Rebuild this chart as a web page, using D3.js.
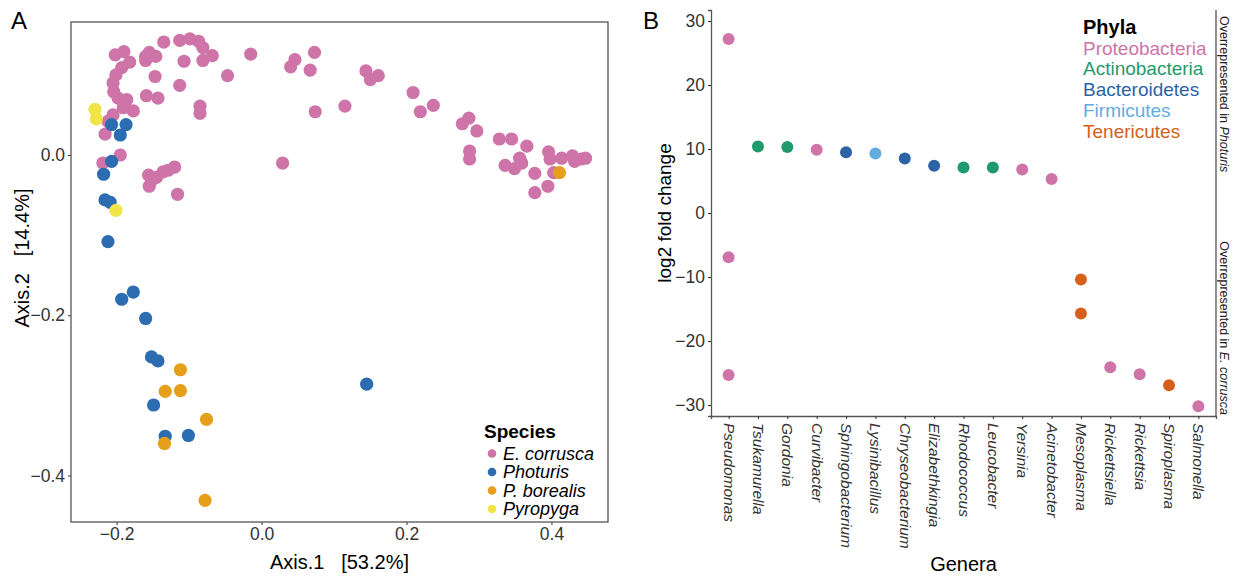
<!DOCTYPE html>
<html>
<head>
<meta charset="utf-8">
<script src="https://cdn.jsdelivr.net/npm/d3@7"></script>
<style>
  body { margin: 0; background: #fff; }
  svg { display: block; font-family: "Liberation Sans", Arial, sans-serif; }
</style>
</head>
<body>
<div id="chart"></div>
<script>
// --- Panel A: PCoA ordination (Axis.1, Axis.2) ---
const speciesNames = ['E. corrusca', 'Photuris', 'P. borealis', 'Pyropyga'];
const speciesColors = ['#CE74A9', '#2C6DB1', '#E69F1A', '#F1E446'];

const corruscaPoints = [
  [-0.202, 0.125], [-0.190, 0.129], [-0.182, 0.116], [-0.193, 0.109], [-0.201, 0.100],
  [-0.205, 0.090], [-0.204, 0.079], [-0.198, 0.071], [-0.186, 0.069], [-0.177, 0.055],
  [-0.191, 0.059], [-0.205, 0.050], [-0.212, 0.042], [-0.160, 0.123], [-0.155, 0.128],
  [-0.146, 0.123], [-0.160, 0.118], [-0.135, 0.141], [-0.113, 0.143], [-0.099, 0.145],
  [-0.087, 0.142], [-0.081, 0.134], [-0.068, 0.124], [-0.081, 0.118], [-0.107, 0.117],
  [-0.147, 0.098], [-0.113, 0.087], [-0.159, 0.074], [-0.143, 0.071], [-0.085, 0.061],
  [-0.085, 0.052], [-0.047, 0.099], [-0.015, 0.126], [0.046, 0.119], [0.040, 0.110],
  [0.067, 0.106], [0.073, 0.128], [0.074, 0.054], [0.115, 0.061], [0.029, -0.010],
  [0.144, 0.105], [0.150, 0.094], [0.161, 0.099], [0.209, 0.078], [0.219, 0.054],
  [0.237, 0.062], [0.277, 0.039], [0.286, 0.046], [0.297, 0.030], [0.328, 0.020],
  [0.345, 0.020], [0.366, 0.011], [0.287, 0.005], [0.287, -0.005], [0.336, -0.013],
  [0.349, -0.017], [0.356, -0.004], [0.359, -0.010], [0.377, -0.023], [0.396, 0.004],
  [0.398, -0.005], [0.414, -0.004], [0.429, -0.001], [0.432, -0.008], [0.441, -0.005],
  [0.447, -0.004], [0.403, -0.022], [0.395, -0.039], [0.377, -0.047], [-0.216, 0.026],
  [-0.195, 0.000], [-0.219, -0.010], [-0.156, -0.025], [-0.145, -0.028], [-0.136, -0.021],
  [-0.120, -0.015], [-0.155, -0.039], [-0.116, -0.049], [-0.151, -0.031], [-0.129, -0.019]
];
const photurisPoints = [
  [-0.207, 0.038], [-0.187, 0.038], [-0.195, 0.025], [-0.207, -0.008], [-0.218, -0.024],
  [-0.216, -0.056], [-0.209, -0.059], [-0.212, -0.108], [-0.193, -0.180], [-0.177, -0.171],
  [-0.160, -0.204], [-0.152, -0.252], [-0.143, -0.257], [-0.149, -0.312], [-0.133, -0.351],
  [-0.101, -0.350], [0.145, -0.286]
];
const borealisPoints = [
  [-0.112, -0.268], [-0.133, -0.295], [-0.112, -0.294], [-0.076, -0.330], [-0.134, -0.360],
  [-0.078, -0.431], [0.411, -0.022]
];
const pyropygaPoints = [
  [-0.230, 0.057], [-0.228, 0.045], [-0.201, -0.069]
];
const axis1Ticks = [-0.2, 0.0, 0.2, 0.4];
const axis2Ticks = [0.0, -0.2, -0.4];

// --- Panel B: differential abundance ---
const genera = ['Pseudomonas', 'Tsukamurella', 'Gordonia', 'Curvibacter', 'Sphingobacterium',
  'Lysinibacillus', 'Chryseobacterium', 'Elizabethkingia', 'Rhodococcus', 'Leucobacter',
  'Yersinia', 'Acinetobacter', 'Mesoplasma', 'Rickettsiella', 'Rickettsia', 'Spiroplasma', 'Salmonella'];
const phylaNames = ['Proteobacteria', 'Actinobacteria', 'Bacteroidetes', 'Firmicutes', 'Tenericutes'];
const phylaColors = ['#CE74A9', '#1F9A6C', '#2C62A6', '#64ACDE', '#D5601C'];

const deGenus = ['Pseudomonas', 'Pseudomonas', 'Pseudomonas', 'Tsukamurella', 'Gordonia', 'Curvibacter',
  'Sphingobacterium', 'Lysinibacillus', 'Chryseobacterium', 'Elizabethkingia', 'Rhodococcus', 'Leucobacter',
  'Yersinia', 'Acinetobacter', 'Mesoplasma', 'Mesoplasma', 'Rickettsiella', 'Rickettsia', 'Spiroplasma', 'Salmonella'];
const deLog2FC = [27.2, -6.9, -25.3, 10.4, 10.3, 9.9, 9.5, 9.3, 8.5, 7.4, 7.1, 7.1, 6.8, 5.3,
  -10.4, -15.7, -24.1, -25.2, -26.9, -30.2];
const dePhylum = ['Proteobacteria', 'Proteobacteria', 'Proteobacteria', 'Actinobacteria', 'Actinobacteria',
  'Proteobacteria', 'Bacteroidetes', 'Firmicutes', 'Bacteroidetes', 'Bacteroidetes', 'Actinobacteria',
  'Actinobacteria', 'Proteobacteria', 'Proteobacteria', 'Tenericutes', 'Tenericutes', 'Proteobacteria',
  'Proteobacteria', 'Tenericutes', 'Proteobacteria'];
const log2Ticks = [-30, -20, -10, 0, 10, 20, 30];

const width = 1235, height = 578;
const svg = d3.select('#chart').append('svg')
  .attr('width', width)
  .attr('height', height);

const tickColor = '#333';
const lineColor = '#555';

// ================= Panel A =================
const boxA = { left: 71, right: 608, top: 22, bottom: 522 };
const xA = d3.scaleLinear().domain([-0.263, 0.478]).range([boxA.left, boxA.right]);
const yA = d3.scaleLinear().domain([-0.458, 0.166]).range([boxA.bottom, boxA.top]);
const fmtA = d3.format('.1f');

const gA = svg.append('g');

gA.append('g')
  .attr('transform', `translate(0,${boxA.bottom})`)
  .call(d3.axisBottom(xA).tickValues(axis1Ticks).tickFormat(fmtA).tickSizeOuter(0).tickSize(3).tickPadding(3))
  .call(g => g.select('.domain').remove())
  .call(g => g.selectAll('line').attr('stroke', tickColor))
  .call(g => g.selectAll('text').attr('font-size', 17.5).attr('fill', tickColor).attr('font-family', null));

gA.append('g')
  .attr('transform', `translate(${boxA.left},0)`)
  .call(d3.axisLeft(yA).tickValues(axis2Ticks).tickFormat(fmtA).tickSizeOuter(0).tickSize(3).tickPadding(3))
  .call(g => g.select('.domain').remove())
  .call(g => g.selectAll('line').attr('stroke', tickColor))
  .call(g => g.selectAll('text').attr('font-size', 17.5).attr('fill', tickColor).attr('font-family', null));

gA.append('rect')
  .attr('x', boxA.left)
  .attr('y', boxA.top)
  .attr('width', boxA.right - boxA.left)
  .attr('height', boxA.bottom - boxA.top)
  .attr('fill', 'none')
  .attr('stroke', lineColor)
  .attr('stroke-width', 1.3);

const speciesPoints = [corruscaPoints, photurisPoints, borealisPoints, pyropygaPoints];
speciesPoints.forEach((pts, i) => {
  gA.append('g')
    .selectAll('circle')
    .data(pts)
    .join('circle')
    .attr('cx', d => xA(d[0]))
    .attr('cy', d => yA(d[1]))
    .attr('r', 6.6)
    .attr('fill', speciesColors[i]);
});

gA.append('text')
  .attr('x', (boxA.left + boxA.right) / 2)
  .attr('y', 569)
  .attr('text-anchor', 'middle')
  .attr('font-size', 20)
  .attr('xml:space', 'preserve')
  .text('Axis.1   [53.2%]');

gA.append('text')
  .attr('transform', 'translate(29,258) rotate(-90)')
  .attr('text-anchor', 'middle')
  .attr('font-size', 20)
  .attr('xml:space', 'preserve')
  .text('Axis.2   [14.4%]');

// legend A
const legA = gA.append('g').attr('transform', 'translate(484,0)');
legA.append('text')
  .attr('x', 0)
  .attr('y', 438)
  .attr('font-size', 19)
  .attr('font-weight', 'bold')
  .text('Species');
speciesNames.forEach((name, i) => {
  const cy = 453.5 + i * 18.5;
  legA.append('circle').attr('cx', 8).attr('cy', cy).attr('r', 4.3).attr('fill', speciesColors[i]);
  legA.append('text')
    .attr('x', 19)
    .attr('y', cy + 6)
    .attr('font-size', 18)
    .attr('font-style', 'italic')
    .text(name);
});

svg.append('text').attr('x', 11).attr('y', 29).attr('font-size', 24).text('A');

// ================= Panel B =================
const boxB = { left: 711, right: 1216, top: 10, bottom: 416 };
const xB = d3.scalePoint().domain(genera).range([boxB.left, boxB.right]).padding(0.6);
const yB = d3.scaleLinear().domain([-31.72, 31.72]).range([boxB.bottom, boxB.top]);
const phylumColor = d3.scaleOrdinal().domain(phylaNames).range(phylaColors);

const gB = svg.append('g');

gB.append('g')
  .attr('transform', `translate(${boxB.left},0)`)
  .call(d3.axisLeft(yB).tickValues(log2Ticks).tickSizeOuter(0).tickSize(3).tickPadding(3))
  .call(g => g.select('.domain').attr('stroke', lineColor).attr('stroke-width', 1.3))
  .call(g => g.selectAll('.tick line').attr('stroke', tickColor))
  .call(g => g.selectAll('text').attr('font-size', 17.5).attr('fill', tickColor).attr('font-family', null));

gB.append('g')
  .attr('transform', `translate(0,${boxB.bottom})`)
  .call(d3.axisBottom(xB).tickSizeOuter(0).tickSize(3))
  .call(g => g.select('.domain').attr('stroke', lineColor).attr('stroke-width', 1.3))
  .call(g => g.selectAll('.tick line').attr('stroke', tickColor))
  .call(g => g.selectAll('text')
    .attr('font-size', 15.5)
    .attr('font-style', 'italic')
    .attr('fill', tickColor)
    .attr('font-family', null)
    .attr('transform', 'rotate(90)')
    .attr('text-anchor', 'start')
    .attr('x', 7)
    .attr('y', 0)
    .attr('dy', '0.35em'));

// right border line
gB.append('line')
  .attr('x1', boxB.right).attr('x2', boxB.right)
  .attr('y1', boxB.top).attr('y2', boxB.bottom)
  .attr('stroke', lineColor)
  .attr('stroke-width', 1.3);

gB.append('g')
  .selectAll('circle')
  .data(deGenus.map((g, i) => ({ genus: g, value: deLog2FC[i], phylum: dePhylum[i] })))
  .join('circle')
  .attr('cx', d => xB(d.genus))
  .attr('cy', d => yB(d.value))
  .attr('r', 6)
  .attr('fill', d => phylumColor(d.phylum));

gB.append('text')
  .attr('x', (boxB.left + boxB.right) / 2)
  .attr('y', 571)
  .attr('text-anchor', 'middle')
  .attr('font-size', 20)
  .text('Genera');

gB.append('text')
  .attr('transform', `translate(671,${yB(0)}) rotate(-90)`)
  .attr('text-anchor', 'middle')
  .attr('font-size', 19)
  .text('log2 fold change');

// side annotations
gB.append('text')
  .attr('transform', `translate(1220,${boxB.top + 6}) rotate(90)`)
  .attr('text-anchor', 'start')
  .attr('font-size', 12.5)
  .attr('fill', '#222')
  .call(t => {
    t.append('tspan').text('Overrepresented in ');
    t.append('tspan').attr('font-style', 'italic').text('Photuris');
  });

gB.append('text')
  .attr('transform', `translate(1220,${boxB.bottom - 1}) rotate(90)`)
  .attr('text-anchor', 'end')
  .attr('font-size', 12.5)
  .attr('fill', '#222')
  .call(t => {
    t.append('tspan').text('Overrepresented in ');
    t.append('tspan').attr('font-style', 'italic').text('E. corrusca');
  });

// legend B
const legB = gB.append('g').attr('transform', 'translate(1083,0)');
legB.append('text')
  .attr('y', 34)
  .attr('font-size', 20)
  .attr('font-weight', 'bold')
  .text('Phyla');
phylaNames.forEach((name, i) => {
  legB.append('text')
    .attr('y', 54.5 + i * 20.8)
    .attr('font-size', 19)
    .attr('fill', phylaColors[i])
    .text(name);
});

svg.append('text').attr('x', 643).attr('y', 29).attr('font-size', 24).text('B');
</script>
</body>
</html>
